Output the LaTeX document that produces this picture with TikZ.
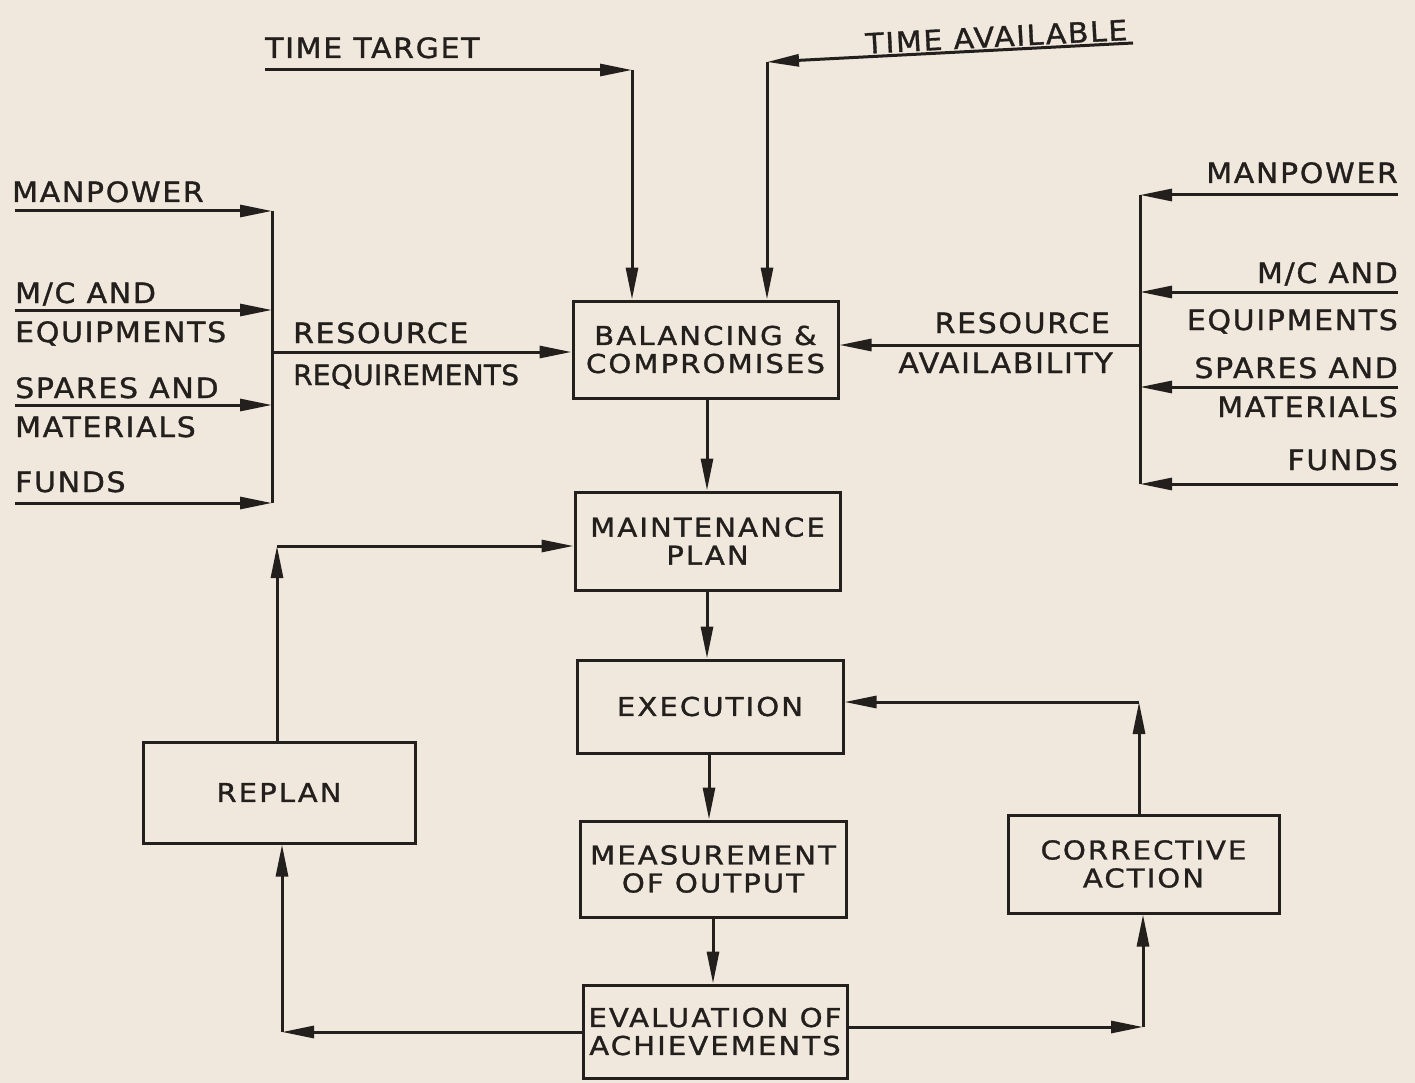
\documentclass[tikz,border=0pt]{standalone}
\usepackage{fontspec}
\usetikzlibrary{arrows.meta}
\newfontfamily\boxlettering{DejaVu Sans}[FakeStretch=1.12,LetterSpace=8,FakeBold=1.2]
\newfontfamily\lettering{DejaVu Sans}[FakeStretch=1.07,LetterSpace=6,FakeBold=1.2]
\newfontfamily\narrowlettering{DejaVu Sans}[LetterSpace=1,FakeBold=1.2]
\newcommand\bxfont{\boxlettering\fontsize{26}{28}\selectfont}
\newcommand\lbfont{\lettering\fontsize{28}{32}\selectfont}
\newcommand\nlbfont{\narrowlettering\fontsize{28}{32}\selectfont}
\definecolor{paper}{RGB}{241,232,221}
\definecolor{ink}{RGB}{34,31,29}
\tikzset{
  stage/.style={draw=ink, line width=3pt, inner sep=0pt, align=center,
                text=ink, font=\bxfont},
  lbl/.style={inner sep=0pt, text=ink, font=\lbfont},
  link/.style={draw=ink, line width=3pt},
  arr/.style={link, -{Triangle[length=32pt,width=12pt]}},
}
\begin{document}
\begin{tikzpicture}[x=1pt,y=-1pt]
\fill[paper] (0,0) rectangle (1415,1083);
\useasboundingbox (0,0) rectangle (1415,1083);

% process boxes
\node[stage, minimum width=265pt, minimum height=97pt] (bal)    at (705.5,349.5) {BALANCING \&\\COMPROMISES};
\node[stage, minimum width=265pt, minimum height=98pt] (maint)  at (707.5,541)   {MAINTENANCE\\PLAN};
\node[stage, minimum width=266pt, minimum height=93pt] (exec)   at (710,706.5)   {EXECUTION};
\node[stage, minimum width=266pt, minimum height=96pt] (meas)   at (713,869)     {MEASUREMENT\\OF OUTPUT};
\node[stage, minimum width=264pt, minimum height=93pt] (eval)   at (715,1031.5)  {EVALUATION OF\\ACHIEVEMENTS};
\node[stage, minimum width=272pt, minimum height=101pt] (replan) at (279,792.5)   {REPLAN};
\node[stage, minimum width=271pt, minimum height=98pt] (corr)   at (1143.5,864)  {CORRECTIVE\\ACTION};

% time inputs
\node[lbl, anchor=base west] (tt) at (265,58) {TIME TARGET};
\coordinate (ttS) at (265,70);
\coordinate (ttC) at (632,70);
\draw[arr] (ttS) -- (ttC);
\draw[arr] (ttC) -- (ttC |- bal.north);

\node[lbl, anchor=base east, rotate=3] (ta) at (1128,40) {TIME AVAILABLE};
\coordinate (taS) at (1133,43);
\coordinate (taC) at (767,62);
\draw[arr] (taS) -- (taC);
\draw[arr] (taC) -- (taC |- bal.north);

% resource requirements (left)
\node[lbl, anchor=base west] (lman) at (12,202) {MANPOWER};
\node[lbl, anchor=base west] (lmc)  at (15,303) {M/C AND};
\node[lbl, anchor=base west] (leq)  at (15,342) {EQUIPMENTS};
\node[lbl, anchor=base west] (lsp)  at (15,398) {SPARES AND};
\node[lbl, anchor=base west] (lmat) at (15,437) {MATERIALS};
\node[lbl, anchor=base west] (lfu)  at (15,492) {FUNDS};
\node[lbl, anchor=base west] (lres) at (293,343) {RESOURCE};
\node[lbl, anchor=base west, font=\nlbfont] (lreq) at (293,385) {REQUIREMENTS};

\coordinate (l1s) at (15,211);  \coordinate (l1e) at (272,211);
\coordinate (l2s) at (15,310);  \coordinate (l2e) at (272,310);
\coordinate (l3s) at (15,405);  \coordinate (l3e) at (272,405);
\coordinate (l4s) at (15,503);  \coordinate (l4e) at (272,503);
\coordinate (lbus) at (272,352);
\draw[arr] (l1s) -- (l1e);
\draw[arr] (l2s) -- (l2e);
\draw[arr] (l3s) -- (l3e);
\draw[arr] (l4s) -- (l4e);
\draw[link] (l1e) -- (l4e);
\draw[arr] (lbus) -- (lbus -| bal.west);

% resource availability (right)
\node[lbl, anchor=base east] (rman) at (1398,183) {MANPOWER};
\node[lbl, anchor=base east] (rmc)  at (1398,283) {M/C AND};
\node[lbl, anchor=base east] (req)  at (1398,330) {EQUIPMENTS};
\node[lbl, anchor=base east] (rsp)  at (1398,378) {SPARES AND};
\node[lbl, anchor=base east] (rmat) at (1398,417) {MATERIALS};
\node[lbl, anchor=base east] (rfu)  at (1398,470) {FUNDS};
\node[lbl, anchor=base east] (rres) at (1110,333) {RESOURCE};
\node[lbl, anchor=base east] (ravl) at (1113,373) {AVAILABILITY};

\coordinate (r1s) at (1398,195); \coordinate (r1e) at (1140,195);
\coordinate (r2s) at (1398,292); \coordinate (r2e) at (1140,292);
\coordinate (r3s) at (1398,387); \coordinate (r3e) at (1140,387);
\coordinate (r4s) at (1398,484); \coordinate (r4e) at (1140,484);
\coordinate (rbus) at (1140,345);
\draw[arr] (r1s) -- (r1e);
\draw[arr] (r2s) -- (r2e);
\draw[arr] (r3s) -- (r3e);
\draw[arr] (r4s) -- (r4e);
\draw[link] (r1e) -- (r4e);
\draw[arr] (rbus) -- (rbus -| bal.east);

% main sequence
\draw[arr] (bal.south -| 707,0) -- (maint.north -| 707,0);
\draw[arr] (maint.south -| 707,0) -- (exec.north -| 707,0);
\draw[arr] (exec.south -| 709,0) -- (meas.north -| 709,0);
\draw[arr] (meas.south -| 713,0) -- (eval.north -| 713,0);

% feedback: replanning
\coordinate (rpC) at (277,546);
\draw[arr] (replan.north -| rpC) -- (rpC);
\draw[arr] (rpC) -- (rpC -| maint.west);
\coordinate (evL) at (282,1032);
\draw[arr] (evL -| eval.west) -- (evL);
\draw[arr] (evL) -- (evL |- replan.south);

% feedback: corrective action
\coordinate (evR) at (1143,1027);
\draw[arr] (evR -| eval.east) -- (evR);
\draw[arr] (evR) -- (evR |- corr.south);
\coordinate (caC) at (1139,702);
\draw[arr] (caC |- corr.north) -- (caC);
\draw[arr] (caC) -- (caC -| exec.east);
\end{tikzpicture}
\end{document}
